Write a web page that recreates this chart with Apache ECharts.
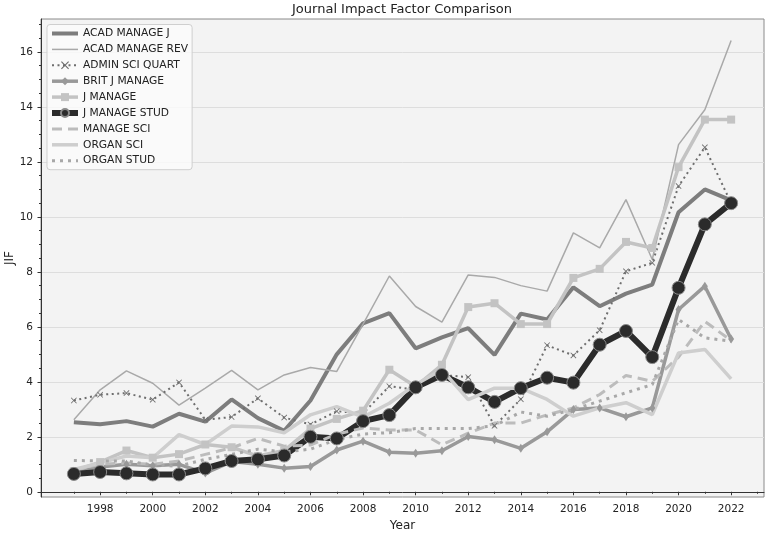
<!DOCTYPE html>
<html>
<head>
<meta charset="utf-8">
<script src="https://cdn.jsdelivr.net/npm/echarts@6/dist/echarts.min.js"></script>
<style>
html,body{margin:0;padding:0;background:#fff;}
#chart{width:768px;height:534px;}
</style>
</head>
<body>
<div id="chart"></div>
<script>
const years = [1997,1998,1999,2000,2001,2002,2003,2004,2005,2006,2007,2008,2009,2010,2011,2012,2013,2014,2015,2016,2017,2018,2019,2020,2021,2022];
const ACAD_MANAGE_J   = [2.53,2.46,2.57,2.37,2.84,2.55,3.36,2.68,2.22,3.32,5.0,6.13,6.5,5.22,5.62,5.95,4.98,6.48,6.27,7.44,6.75,7.21,7.54,10.17,11.0,10.6];
const ACAD_MANAGE_REV = [2.62,3.71,4.4,3.95,3.15,3.77,4.42,3.71,4.25,4.52,4.38,6.1,7.85,6.74,6.17,7.89,7.8,7.5,7.3,9.42,8.87,10.63,8.45,12.63,13.9,16.42];
const ADMIN_SCI_QUART = [3.32,3.53,3.59,3.35,3.98,2.62,2.72,3.4,2.7,2.45,2.93,2.85,3.84,3.71,4.25,4.17,2.4,3.37,5.33,4.96,5.88,8.02,8.33,11.12,12.53,10.5];
const BRIT_J_MANAGE   = [0.7,0.9,1.0,0.95,1.0,0.68,1.1,1.0,0.86,0.92,1.52,1.84,1.44,1.4,1.49,2.01,1.89,1.58,2.18,2.99,3.05,2.73,3.05,6.63,7.48,5.56];
const J_MANAGE        = [0.75,1.08,1.5,1.24,1.37,1.72,1.62,1.3,1.5,2.3,2.65,2.95,4.44,3.83,4.62,6.72,6.86,6.1,6.1,7.78,8.11,9.09,8.87,11.81,13.54,13.54];
const J_MANAGE_STUD   = [0.65,0.72,0.67,0.63,0.63,0.85,1.12,1.18,1.32,2.0,1.94,2.57,2.79,3.8,4.25,3.8,3.27,3.77,4.15,3.97,5.35,5.85,4.9,7.42,9.73,10.5];
const MANAGE_SCI      = [0.8,1.0,1.05,1.0,1.12,1.36,1.6,1.94,1.66,1.7,2.1,2.32,2.25,2.25,1.71,2.13,2.5,2.5,2.8,3.05,3.54,4.23,4.02,4.9,6.2,5.5];
const ORGAN_SCI       = [0.81,1.05,1.3,1.24,2.08,1.72,2.39,2.36,2.15,2.8,3.1,2.72,3.22,3.9,4.44,3.35,3.77,3.77,3.36,2.75,3.05,3.24,2.81,5.05,5.18,4.11];
const ORGAN_STUD      = [1.14,1.12,1.12,0.97,0.93,1.18,1.36,1.55,1.45,1.55,1.9,2.1,2.15,2.3,2.3,2.3,2.4,2.9,2.75,2.99,3.3,3.6,3.9,6.27,5.6,5.48];

const xMajorTicks = [1998,2000,2002,2004,2006,2008,2010,2012,2014,2016,2018,2020,2022];
const xMinorTicks = [1997,1999,2001,2003,2005,2007,2009,2011,2013,2015,2017,2019,2021,2023];
const yMajorTicks = [0,2,4,6,8,10,12,14,16];
const yMinorTicks = [0.5,1,1.5,2.5,3,3.5,4.5,5,5.5,6.5,7,7.5,8.5,9,9.5,10.5,11,11.5,12.5,13,13.5,14.5,15,15.5,16.5,17];

const FONT = 'DejaVu Sans';
const pair = arr => years.map((y,i)=>[y,arr[i]]);
const xShape = 'path://M1,0L5,4L9,0L10,1L6,5L10,9L9,10L5,6L1,10L0,9L4,5L0,1Z';

const series = [
  {name:'ACAD MANAGE J', data:pair(ACAD_MANAGE_J), color:'#7d7d7d', lineStyle:{width:4}, symbol:'none'},
  {name:'ACAD MANAGE REV', data:pair(ACAD_MANAGE_REV), color:'#a9a9a9', lineStyle:{width:1.5}, symbol:'none'},
  {name:'ADMIN SCI QUART', data:pair(ADMIN_SCI_QUART), color:'#6e6e6e', lineStyle:{width:2, type:[2,3.5]}, symbol:xShape, symbolSize:6},
  {name:'BRIT J MANAGE', data:pair(BRIT_J_MANAGE), color:'#999999', lineStyle:{width:3.5}, symbol:'diamond', symbolSize:[6,9]},
  {name:'J MANAGE', data:pair(J_MANAGE), color:'#c3c3c3', lineStyle:{width:3.5}, symbol:'rect', symbolSize:8},
  {name:'J MANAGE STUD', data:pair(J_MANAGE_STUD), color:'#2b2b2b', lineStyle:{width:6}, symbol:'circle', symbolSize:13, itemStyle:{borderColor:'#8a8a8a', borderWidth:1}},
  {name:'MANAGE SCI', data:pair(MANAGE_SCI), color:'#bcbcbc', lineStyle:{width:3, type:[10,6]}, symbol:'none'},
  {name:'ORGAN SCI', data:pair(ORGAN_SCI), color:'#cecece', lineStyle:{width:3.5}, symbol:'none'},
  {name:'ORGAN STUD', data:pair(ORGAN_STUD), color:'#a8a8a8', lineStyle:{width:3, type:[3,5]}, symbol:'none'}
].map(s => Object.assign({type:'line', showSymbol:true, animation:false, xAxisIndex:0, yAxisIndex:0, emphasis:{disabled:true}}, s, {
  itemStyle: Object.assign({color:s.color, opacity:1}, s.itemStyle||{}),
  lineStyle: Object.assign({color:s.color}, s.lineStyle)
}));

const legendData = series.map(s => {
  const item = {name:s.name, lineStyle:{width:s.lineStyle.width, type:s.lineStyle.type || 'solid', color:s.color}};
  if (s.symbol === 'none') item.itemStyle = {opacity:0};
  return item;
});

const chart = echarts.init(document.getElementById('chart'), null, {renderer:'canvas'});
chart.setOption({
  animation:false,
  backgroundColor:'#ffffff',
  textStyle:{fontFamily:FONT},
  title:{text:'Journal Impact Factor Comparison', left:397, top:-2, textAlign:'center',
    textStyle:{fontFamily:FONT, fontSize:13, fontWeight:'normal', color:'#222'}},
  legend:{
    orient:'vertical', left:47, top:24.5, itemWidth:26, itemHeight:10, itemGap:3.9,
    padding:[3,4,3,2], backgroundColor:'rgba(250,250,250,0.85)', borderColor:'#cfcfcf', borderWidth:1, borderRadius:3,
    textStyle:{fontFamily:FONT, fontSize:10.7, lineHeight:12, color:'#222'},
    data:legendData
  },
  grid:{left:41, right:4, top:19, bottom:37, show:true, backgroundColor:'#f3f3f3', borderColor:'#8a8a8a', borderWidth:1,
    containLabel:false, outerBoundsMode:'none'},
  xAxis:[
    {type:'value', min:1995.75, max:2023.25, name:'Year', nameLocation:'middle', nameGap:22,
      nameTextStyle:{fontFamily:FONT, fontSize:12, color:'#222'},
      axisLine:{show:true, lineStyle:{color:'#333', width:1}},
      axisTick:{show:true, length:3.5, customValues:xMajorTicks, lineStyle:{color:'#333'}},
      axisLabel:{customValues:xMajorTicks, margin:7, fontFamily:FONT, fontSize:10.5, color:'#222', formatter:v=>String(v)},
      splitLine:{show:false}},
    {type:'value', min:1995.75, max:2023.25, position:'bottom',
      axisLine:{show:false},
      axisTick:{show:true, length:2, customValues:xMinorTicks, lineStyle:{color:'#333'}},
      axisLabel:{show:false}, splitLine:{show:false}}
  ],
  yAxis:[
    {type:'value', min:-0.19, max:17.2, name:'JIF', nameLocation:'middle', nameGap:25, nameMoveOverlap:false,
      nameTextStyle:{fontFamily:FONT, fontSize:12, color:'#222'},
      axisLine:{show:true, lineStyle:{color:'#333', width:1}},
      axisTick:{show:true, length:3.5, customValues:yMajorTicks, lineStyle:{color:'#333'}},
      axisLabel:{customValues:yMajorTicks, margin:8, fontFamily:FONT, fontSize:10.5, color:'#222', formatter:v=>String(v)},
      splitLine:{show:true, lineStyle:{color:'#dddddd', width:1}}},
    {type:'value', min:-0.19, max:17.2, position:'left',
      axisLine:{show:false},
      axisTick:{show:true, length:2, customValues:yMinorTicks, lineStyle:{color:'#333'}},
      axisLabel:{show:false}, splitLine:{show:false}}
  ],
  series:series
});
</script>
</body>
</html>
